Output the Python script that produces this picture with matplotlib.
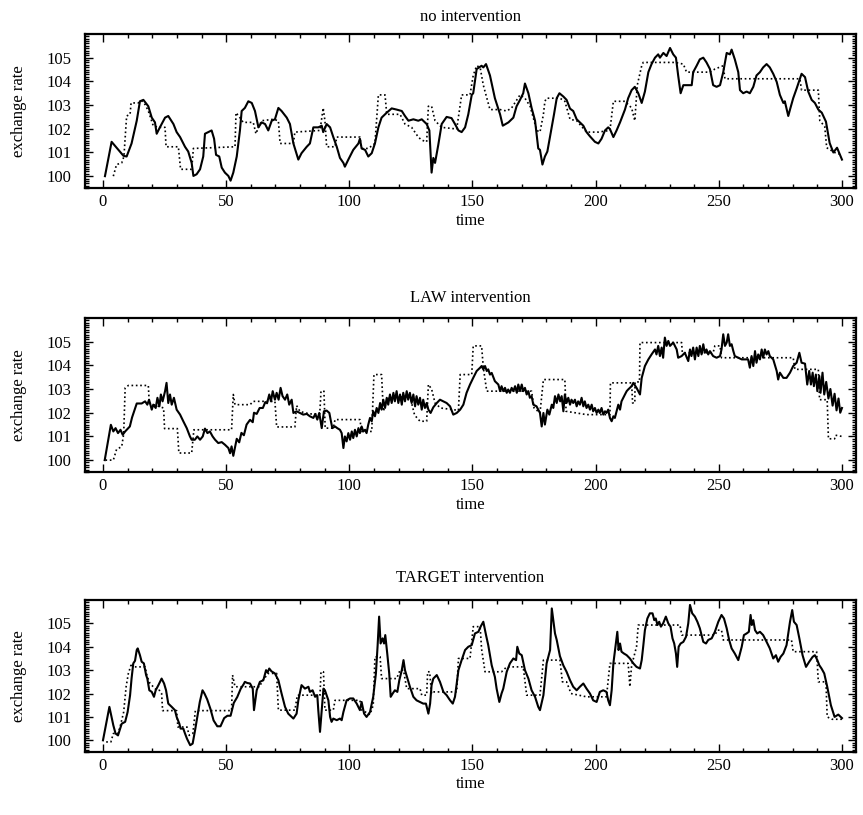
import matplotlib
matplotlib.use("Agg")
import matplotlib.pyplot as plt
from matplotlib.ticker import MultipleLocator

plt.rcParams['font.family'] = ['Liberation Serif', 'DejaVu Serif']

# (time, rate) pairs read per series
no_rate = [(0.8,100.0),(3.5,101.45),(8.3,100.86),(9.6,100.83),(11.6,101.38),(13.7,102.34),(15.0,103.16),(16.4,103.22),(18.4,102.95),(19.8,102.47),
           (21.1,102.27),(21.8,101.79),(23.1,102.06),(25.2,102.47),(26.5,102.54),(28.6,102.2),(29.9,101.86),(31.3,101.65),(33.3,101.24),(34.6,101.04),
           (36.0,100.56),(36.7,100.01),(38.0,100.08),(39.4,100.29),(40.7,100.83),(41.4,101.79),(42.8,101.86),(44.1,101.93),(45.1,101.58),(45.9,100.9),
           (47.2,100.83),(48.2,100.36),(49.5,100.15),(50.9,100.01),(51.8,99.81),(52.9,100.15),(54.3,100.83),(55.6,101.93),(56.3,102.75),(57.6,102.88),
           (59.0,103.16),(60.4,103.09),(61.7,102.75),(63.1,102.06),(64.4,102.27),(65.8,102.2),(67.1,101.93),(68.5,102.34),(69.8,102.4),(71.2,102.88),
           (72.5,102.75),(74.6,102.47),(75.9,102.2),(77.3,101.38),(79.3,100.7),(80.6,100.97),(82.7,101.24),(84.0,101.38),(85.4,102.06),(87.4,102.06),
           (88.8,102.13),(89.4,101.86),(90.8,102.2),(92.2,102.06),(93.5,101.65),(94.9,101.24),(96.2,100.77),(97.6,100.56),(98.2,100.4),(99.6,100.7),
           (101.6,101.11),(103.7,101.38),(104.3,101.58),(105.0,101.17),(106.4,101.11),(107.7,100.83),(109.1,100.97),(110.4,101.38),(111.8,102.06),(113.1,102.47),
           (115.2,102.68),(117.2,102.86),(119.2,102.81),(121.3,102.75),(122.6,102.54),(124.0,102.34),(126.0,102.4),(128.0,102.34),(129.4,102.4),(131.4,102.2),
           (132.5,101.93),(133.0,100.9),(133.4,100.15),(134.1,100.77),(134.8,100.56),(136.1,101.31),(137.5,102.2),(139.5,102.5),(141.5,102.45),(142.9,102.2),
           (144.3,101.93),(145.6,101.86),(147.0,102.06),(148.3,102.61),(149.7,103.43),(150.3,103.5),(151.7,104.52),(153.7,104.66),(154.4,104.59),(155.5,104.73),
           (157.1,104.25),(159.1,103.29),(161.2,102.61),(162.3,102.13),(164.6,102.27),(166.6,102.47),(167.9,102.95),(169.3,103.22),(170.6,103.5),(171.3,103.91),
           (172.7,103.5),(174.0,102.88),(175.4,102.34),(176.7,101.17),(177.4,101.11),(178.4,100.49),(179.4,100.83),(180.4,101.04),(181.7,101.79),(183.1,102.61),
           (184.2,103.29),(185.3,103.5),(186.9,103.36),(188.2,103.22),(189.6,102.85),(190.9,102.75),(192.3,102.4),(193.6,102.27),(195.0,102.13),(196.3,101.86),
           (197.7,101.68),(199.7,101.45),(201.1,101.38),(202.4,101.58),(203.8,101.93),(205.1,102.06),(205.8,101.99),(207.2,101.65),(208.5,101.93),(209.9,102.27),
           (211.9,102.81),(213.2,103.29),(214.6,103.63),(215.9,103.77),(217.3,103.5),(218.7,103.09),(220.0,103.57),(221.4,104.39),(222.7,104.73),(224.1,105.0),
           (225.4,105.14),(226.1,105.0),(227.5,105.2),(228.8,105.07),(230.2,105.41),(231.5,105.14),(232.6,105.0),(233.5,104.25),(234.5,103.5),(235.6,103.84),
           (239.0,103.84),(239.6,104.39),(241.0,104.66),(242.3,104.93),(243.7,105.0),(245.0,104.8),(246.4,104.52),(247.7,103.84),(249.1,103.77),(250.5,103.84),
           (251.8,104.39),(253.2,105.2),(254.5,105.14),(255.2,105.34),(256.5,104.93),(257.9,104.39),(258.6,103.63),(259.9,103.5),(261.3,103.57),(262.6,103.5),
           (264.0,103.77),(265.3,104.25),(266.7,104.39),(268.0,104.59),(269.4,104.73),(270.7,104.59),(272.1,104.32),(273.5,103.98),(274.8,103.43),(276.2,103.09),
           (276.8,103.16),(278.2,102.54),(278.9,102.81),(280.2,103.29),(281.6,103.7),(282.9,104.11),(283.6,104.32),(285.0,104.18),(286.3,103.57),(287.7,103.22),
           (289.0,103.09),(290.4,102.81),(291.8,102.68),(293.5,102.3),(295.0,101.4),(296.5,101.0),(298.0,101.2),(300.0,100.7)]

no_fund = [(4.2,100.0),(5.5,100.49),(7.6,100.56),(8.5,100.83),(9.2,101.93),(9.6,102.54),(11.0,102.61),(11.4,103.09),(14.3,103.09),(15.7,103.18),
           (17.1,103.02),(18.4,102.75),(20.4,102.13),(22.5,102.06),(25.2,102.06),(25.6,101.24),(30.6,101.24),(31.5,100.29),(36.0,100.29),(36.7,101.17),
           (53.6,101.24),(54.0,102.68),(55.6,102.47),(56.9,102.27),(61.0,102.27),(62.1,101.79),(63.1,102.06),(64.4,102.34),(69.1,102.4),(71.2,102.34),
           (71.9,101.38),(77.3,101.38),(77.9,101.86),(88.1,101.93),(89.4,102.88),(90.1,102.34),(90.8,101.24),(94.2,101.24),(94.9,101.65),(104.3,101.65),
           (105.0,101.17),(107.7,101.17),(110.4,101.38),(111.8,103.43),(114.5,103.43),(115.2,102.61),(120.6,102.61),(122.6,102.2),(125.3,102.06),(128.0,101.65),
           (129.4,101.52),(131.4,101.45),(132.1,102.95),(133.4,102.95),(134.8,102.34),(137.5,102.06),(143.6,101.99),(145.6,103.43),(149.0,103.43),(150.3,104.25),
           (151.7,104.66),(153.1,104.59),(154.4,103.84),(157.1,102.81),(161.2,102.81),(163.9,102.75),(165.9,102.88),(169.3,103.43),(171.3,103.29),(173.4,102.95),
           (176.1,101.93),(177.4,101.86),(178.8,102.61),(179.4,103.16),(180.1,103.29),(185.5,103.29),(187.5,103.16),(189.6,102.4),(192.3,102.34),(196.3,101.86),
           (201.1,101.86),(205.8,101.93),(207.2,103.16),(211.9,103.16),(214.6,102.88),(215.9,102.34),(216.9,103.84),(218.7,104.66),(219.3,104.8),(232.2,104.8),
           (235.6,104.73),(236.9,104.39),(246.4,104.39),(248.4,104.52),(251.8,104.66),(252.5,104.11),(282.9,104.11),(283.6,103.63),(290.4,103.63),(291.0,102.34),
           (293.0,102.1),(293.8,101.2),(297.0,101.0),(300.0,100.9)]

law_rate = [(0.7,100.0),(3.2,101.49),(4.2,101.21),(5.1,101.35),(6.1,101.14),(7.1,101.28),(8.0,101.07),(9.0,101.21),(10.9,101.42),(11.8,101.8),
            (13.7,102.39),(15.7,102.39),(17.1,102.48),(18.0,102.34),(18.7,102.55),(19.8,102.13),(20.4,102.34),(21.4,102.2),(22.1,102.63),(22.9,102.27),
            (23.5,102.77),(24.2,102.48),(25.2,102.91),(25.8,103.26),(26.5,102.41),(27.2,102.77),(27.9,102.34),(28.8,102.63),(29.9,102.13),(31.3,101.92),
            (32.6,101.64),(34.0,101.35),(35.3,101.0),(36.0,100.86),(37.3,100.86),(38.3,101.0),(39.4,100.86),(40.5,101.0),(41.4,101.33),(42.4,101.14),
            (43.4,101.21),(44.5,101.0),(45.5,100.86),(46.8,100.72),(48.2,100.76),(49.5,100.65),(50.9,100.51),(51.6,100.29),(52.2,100.58),(52.9,100.18),
            (54.3,100.9),(55.3,100.75),(56.2,101.15),(57.2,101.05),(58.3,101.5),(59.7,101.7),(60.8,101.6),(61.3,102.0),(62.4,101.95),(63.6,102.2),
            (64.9,102.2),(65.9,102.45),(66.6,102.4),(67.5,102.77),(68.2,102.48),(68.9,102.91),(69.8,102.55),(70.5,102.84),(71.3,102.55),(72.1,103.05),
            (72.9,102.7),(73.9,102.55),(74.8,102.77),(75.6,102.34),(76.6,102.55),(77.3,101.99),(78.6,102.06),(80.0,101.99),(81.3,101.92),(82.7,101.95),
            (84.0,101.85),(85.4,101.78),(86.2,101.95),(87.0,101.71),(87.8,101.99),(88.8,101.35),(89.7,102.06),(90.8,102.09),(91.9,101.99),(92.4,101.71),
            (93.1,101.35),(94.2,101.42),(95.1,101.35),(96.2,101.28),(96.9,101.14),(97.6,100.51),(98.2,101.0),(98.9,100.79),(99.6,101.14),(100.3,100.86),
            (101.0,101.21),(101.6,100.93),(102.3,101.28),(103.0,101.0),(103.7,101.35),(104.3,101.14),(105.0,101.42),(105.7,101.21),(106.4,101.28),(107.0,101.14),
            (107.7,101.5),(108.4,101.78),(109.1,101.64),(109.7,102.06),(110.4,101.85),(111.1,102.2),(111.8,101.99),(112.5,102.41),(113.1,102.13),(113.8,102.55),
            (114.5,102.2),(115.2,102.63),(115.8,102.34),(116.5,102.77),(117.2,102.41),(117.9,102.84),(118.5,102.48),(119.2,102.91),(119.9,102.41),(120.6,102.77),
            (121.3,102.34),(121.9,102.84),(122.6,102.48),(123.3,102.91),(123.9,102.55),(124.6,102.84),(125.3,102.41),(126.0,102.77),(126.7,102.27),(127.3,102.7),
            (128.0,102.34),(128.7,102.63),(129.4,102.13),(130.0,102.55),(130.7,102.2),(131.4,102.41),(132.1,102.13),(133.0,101.99),(134.1,102.23),(135.5,102.41),
            (136.8,102.55),(138.2,102.48),(139.5,102.41),(140.9,102.27),(142.2,101.92),(143.6,101.99),(145.0,102.13),(146.3,102.34),(147.6,102.84),(149.0,103.19),
            (150.3,103.47),(151.7,103.76),(153.1,103.9),(153.7,103.97),(154.4,103.83),(155.1,103.97),(155.8,103.76),(156.4,103.83),(157.1,103.61),(157.8,103.68),
            (159.1,103.33),(160.5,103.19),(161.2,102.91),(161.8,103.12),(162.5,102.91),(163.2,103.05),(163.9,102.84),(164.5,102.98),(165.2,102.84),(165.9,103.05),
            (166.6,102.91),(167.3,103.12),(168.0,102.84),(168.6,103.19),(169.3,102.91),(170.0,103.19),(170.6,102.91),(171.3,103.05),(172.0,102.77),(172.7,102.91),
            (173.3,102.63),(174.0,102.7),(174.7,102.34),(176.0,102.27),(177.4,101.99),(178.1,101.42),(178.8,101.99),(179.4,101.5),(180.4,102.13),(181.2,101.92),
            (182.2,102.34),(182.8,102.2),(183.5,102.7),(184.2,102.41),(184.9,102.77),(185.6,102.48),(186.2,102.7),(186.9,102.06),(187.5,102.77),(188.2,102.41),
            (188.9,102.63),(189.6,102.34),(190.2,102.55),(190.9,102.41),(191.6,102.55),(192.3,102.27),(192.9,102.48),(193.6,102.34),(194.3,102.63),(195.0,102.27),
            (195.6,102.48),(196.3,102.2),(197.0,102.34),(197.7,102.13),(198.4,102.34),(199.0,102.06),(199.7,102.2),(200.4,101.99),(201.1,102.13),(201.7,101.99),
            (202.4,102.2),(203.1,101.92),(203.8,102.06),(204.4,101.99),(205.1,102.13),(205.8,101.78),(206.5,101.64),(207.2,101.85),(207.8,101.78),(208.5,102.06),
            (209.2,102.34),(209.9,102.13),(210.5,102.48),(211.2,102.63),(211.9,102.77),(212.6,102.91),(213.2,102.98),(213.9,103.05),(214.6,103.12),(215.3,103.26),
            (216.6,103.05),(218.0,102.77),(218.7,103.47),(220.0,103.97),(221.4,104.25),(222.7,104.46),(224.1,104.67),(224.7,104.46),(225.4,104.82),(226.1,104.39),
            (226.8,104.75),(227.4,104.32),(228.1,105.17),(228.8,104.82),(229.5,105.03),(230.2,104.82),(231.5,104.96),(232.9,104.67),(233.5,104.32),(234.9,104.39),
            (236.2,104.53),(237.6,104.18),(238.3,104.67),(238.9,104.39),(239.6,104.75),(240.3,104.25),(241.0,104.75),(241.7,104.39),(242.3,104.82),(243.0,104.46),
            (243.7,104.89),(244.3,104.53),(245.0,104.67),(245.7,104.46),(246.4,104.6),(247.7,104.39),(249.1,104.32),(250.5,104.39),(251.1,104.67),(251.8,105.31),
            (252.5,104.82),(253.2,104.96),(253.8,105.31),(254.5,104.82),(255.2,104.89),(255.9,104.6),(256.5,104.39),(257.9,104.32),(259.3,104.25),(260.6,104.25),
            (261.9,104.25),(262.6,103.9),(263.3,104.39),(264.0,103.97),(264.7,104.6),(265.3,104.11),(266.0,104.46),(266.7,104.25),(267.4,104.67),(268.0,104.32),
            (268.7,104.67),(269.4,104.46),(270.1,104.6),(270.7,104.39),(272.1,104.25),(273.5,103.76),(274.1,103.4),(274.8,103.69),(276.2,103.47),(277.5,103.47),
            (278.9,103.69),(280.2,103.97),(281.6,104.11),(282.7,104.53),(283.6,104.11),(285.0,104.07),(285.9,103.19),(286.7,103.76),(287.4,103.19),(288.1,103.69),
            (288.6,103.12),(289.4,103.61),(290.0,102.91),(290.8,103.55),(291.3,102.84),(292.1,103.69),(292.8,102.77),(293.6,103.3),(294.5,102.6),(295.3,103.0),
            (296.2,102.3),(297.0,102.8),(297.8,102.1),(298.6,102.6),(299.3,102.0),(300.0,102.2)]

law_fund = [(1.0,100.0),(4.2,100.0),(5.5,100.45),(7.6,100.57),(8.4,101.1),(9.0,103.05),(10.3,103.15),(18.4,103.15),(18.8,102.4),(24.6,102.2),
            (25.0,101.33),(30.2,101.33),(30.8,100.3),(36.0,100.3),(36.9,101.28),(52.2,101.28),(52.9,102.77),(53.6,102.34),(59.7,102.34),(61.0,102.48),
            (69.8,102.48),(70.5,101.4),(77.9,101.4),(78.6,102.3),(80.0,102.05),(84.0,101.95),(88.0,101.95),(88.5,102.91),(89.7,102.91),(90.2,101.35),
            (93.5,101.35),(94.2,101.71),(104.3,101.71),(105.0,101.21),(109.1,101.21),(110.0,103.61),(113.1,103.61),(113.8,102.06),(115.5,102.6),(124.6,102.7),
            (126.5,101.9),(128.7,101.64),(131.4,101.64),(132.1,103.19),(133.4,103.0),(134.8,102.41),(137.0,102.2),(144.3,102.1),(145.0,103.61),(149.7,103.61),
            (150.3,104.82),(153.7,104.82),(154.4,103.9),(155.8,102.91),(174.0,102.91),(175.0,102.2),(177.4,101.99),(178.8,103.4),(187.5,103.4),(188.0,102.06),
            (196.3,101.92),(205.8,101.92),(206.0,103.26),(214.6,103.26),(215.0,102.41),(215.9,102.41),(216.0,103.3),(217.8,103.3),(218.0,104.96),(234.9,104.96),
            (235.2,104.53),(247.7,104.53),(248.4,104.82),(250.5,104.82),(251.1,104.32),(280.2,104.32),(280.9,103.83),(290.4,103.83),(290.9,102.55),(294.0,102.55),
            (294.5,100.9),(297.0,100.9),(297.4,101.05),(300.0,101.0)]

target_rate = [(0.0,100.0),(2.6,101.43),(4.2,100.64),(5.1,100.29),(6.1,100.21),(7.6,100.71),(9.0,100.79),(10.0,101.21),(11.0,101.93),(11.6,102.64),
               (12.3,103.29),(13.0,103.4),(13.7,103.86),(14.1,103.93),(15.0,103.64),(15.7,103.36),(16.6,103.29),(17.5,102.79),(18.0,102.64),(18.8,102.14),
               (19.8,102.07),(20.7,101.86),(21.4,102.14),(22.5,102.36),(23.8,102.64),(24.8,102.43),(25.6,102.14),(26.5,101.57),(27.9,101.43),(29.2,101.29),
               (29.9,101.0),(31.0,100.71),(31.5,100.5),(32.6,100.5),(33.3,100.29),(34.1,100.07),(35.4,99.79),(36.4,99.86),(37.5,100.5),(38.5,101.14),
               (39.3,101.64),(40.4,102.14),(41.2,102.0),(42.3,101.75),(43.6,101.35),(44.9,100.85),(46.4,100.6),(47.7,100.6),(49.2,100.95),(50.5,101.05),
               (51.8,101.05),(53.1,101.6),(54.5,101.85),(55.9,102.2),(57.1,102.4),(57.6,102.5),(58.6,102.45),(59.7,102.43),(60.8,102.21),(61.3,101.29),
               (62.4,102.14),(63.7,102.5),(65.1,102.57),(66.2,103.0),(66.8,102.9),(67.5,103.07),(68.4,102.95),(69.8,102.86),(71.2,102.57),(72.5,102.0),
               (73.9,101.43),(75.2,101.14),(76.6,101.0),(77.3,100.93),(78.6,101.14),(79.3,101.71),(80.6,102.36),(82.0,102.21),(83.4,102.29),(84.0,102.07),
               (85.1,102.14),(86.1,101.86),(87.0,101.93),(87.4,101.29),(88.1,100.36),(88.8,101.29),(89.5,102.21),(90.1,102.14),(90.8,101.93),(91.5,101.71),
               (92.2,101.0),(92.8,100.79),(93.5,100.93),(94.9,100.86),(96.2,100.93),(96.9,100.86),(97.6,101.21),(98.9,101.71),(100.3,101.79),(101.6,101.79),
               (103.0,101.57),(104.3,101.29),(105.0,101.64),(106.0,101.14),(107.0,101.0),(108.4,101.21),(109.7,101.86),(110.8,102.86),(111.5,104.07),(112.1,105.29),
               (112.7,104.14),(113.5,104.36),(114.1,104.14),(114.6,104.5),(115.4,103.71),(116.2,102.86),(116.8,101.86),(117.6,102.0),(118.5,102.14),(119.5,102.07),
               (120.3,102.57),(121.3,103.0),(122.0,103.43),(122.6,103.0),(123.6,102.64),(124.6,102.29),(126.0,101.86),(127.3,101.71),(128.7,101.64),(130.0,101.57),
               (131.1,101.57),(132.1,101.14),(132.8,101.57),(133.4,102.36),(134.1,102.64),(135.5,102.79),(136.8,102.5),(138.2,102.07),(139.5,101.93),(140.9,101.71),
               (142.0,101.57),(142.9,101.86),(144.3,103.0),(145.6,103.43),(147.0,103.86),(148.3,104.0),(149.7,104.07),(151.0,104.57),(152.4,104.64),(153.3,104.86),
               (154.4,105.07),(155.5,104.5),(156.4,104.07),(157.8,103.21),(159.1,102.71),(159.8,102.21),(160.9,101.64),(161.8,102.0),(162.5,102.21),(163.9,102.93),
               (165.2,103.29),(166.6,103.5),(167.7,103.43),(168.2,104.0),(169.0,103.71),(170.0,103.64),(171.3,103.0),(172.7,102.64),(174.0,102.14),(175.4,101.86),
               (176.7,101.43),(177.4,101.29),(178.8,101.93),(180.1,103.29),(181.5,103.86),(182.2,105.64),(182.8,105.14),(183.5,104.57),(184.2,104.29),(185.5,103.6),
               (186.9,103.2),(188.2,102.93),(189.6,102.57),(190.9,102.29),(192.3,102.14),(193.6,102.29),(195.0,102.43),(196.3,102.21),(197.7,102.0),(199.0,101.71),
               (200.4,101.64),(201.7,102.07),(203.1,102.14),(204.4,102.07),(205.1,101.71),(205.8,101.5),(206.5,102.14),(207.2,103.29),(208.2,104.14),(208.8,104.64),
               (209.3,103.86),(209.9,104.14),(210.5,103.79),(211.5,103.71),(212.6,103.64),(213.9,103.5),(215.3,103.29),(216.6,103.14),(218.0,103.07),(218.7,103.43),
               (219.3,104.0),(220.0,104.71),(221.0,105.21),(222.0,105.43),(223.1,105.43),(223.8,105.14),(224.4,105.21),(225.1,104.93),(225.8,105.07),(226.5,104.86),
               (227.4,105.0),(228.5,105.29),(229.5,105.0),(230.4,104.86),(231.2,104.36),(231.9,104.14),(232.6,103.71),(233.1,103.14),(233.7,104.0),(234.5,104.14),
               (235.6,104.21),(236.7,104.43),(237.6,105.0),(238.3,105.79),(239.2,105.43),(240.3,105.29),(241.3,105.07),(242.3,104.79),(243.7,104.21),(244.8,104.14),
               (245.7,104.29),(247.1,104.36),(248.4,104.64),(249.8,105.07),(251.1,105.36),(252.1,105.21),(253.2,104.79),(254.2,104.29),(255.2,103.93),(256.5,103.71),
               (257.9,103.43),(259.3,104.0),(260.2,104.5),(261.3,104.57),(262.2,104.64),(262.9,105.36),(263.4,104.93),(264.0,105.14),(264.7,104.71),(265.6,104.57),
               (266.7,104.64),(268.0,104.5),(269.4,104.21),(270.7,103.93),(272.1,103.5),(273.2,103.64),(274.1,103.36),(275.1,103.57),(276.2,103.71),(277.5,104.07),
               (278.9,105.07),(279.8,105.57),(280.5,105.07),(281.6,104.93),(282.7,104.36),(284.0,103.64),(285.4,103.14),(286.7,103.36),(288.1,103.57),(289.0,103.64),
               (290.0,103.43),(290.8,103.21),(291.7,103.07),(292.8,102.86),(294.0,102.3),(295.5,101.5),(297.0,101.0),(298.5,101.1),(300.0,100.95)]

target_fund = [(1.3,99.93),(3.2,99.93),(4.2,100.29),(6.1,100.29),(7.1,100.64),(8.4,101.21),(9.4,102.3),(10.3,102.86),(11.6,103.29),(12.3,103.14),
               (17.1,103.14),(18.0,102.71),(19.1,102.43),(21.8,102.14),(22.9,102.14),(23.8,102.0),(24.2,101.27),(29.9,101.27),(30.4,100.57),(34.1,100.57),
               (35.0,100.21),(36.5,100.3),(37.5,101.27),(52.2,101.27),(52.6,102.79),(53.6,102.29),(63.7,102.29),(64.4,102.5),(67.1,102.86),(70.5,102.86),
               (71.2,101.29),(77.9,101.29),(78.9,101.93),(88.1,101.93),(88.5,102.93),(89.5,102.93),(90.1,101.29),(93.5,101.29),(94.2,101.71),(104.3,101.71),
               (105.0,101.3),(108.4,101.1),(109.7,101.5),(110.4,103.57),(112.5,103.57),(113.1,102.64),(119.2,102.64),(120.6,103.0),(122.0,103.0),(123.3,102.21),
               (128.7,102.21),(129.4,101.93),(131.4,101.93),(131.8,102.93),(132.6,102.93),(133.4,102.0),(134.0,102.07),(143.6,102.07),(144.3,103.5),(149.0,103.5),
               (150.3,104.86),(153.1,104.86),(153.7,103.9),(155.1,102.93),(161.8,102.93),(163.9,103.14),(170.6,103.14),(172.0,101.93),(177.4,101.93),(178.8,103.43),
               (185.5,103.43),(186.5,102.5),(188.2,102.5),(190.0,102.0),(196.3,101.86),(204.4,101.86),(205.8,103.29),(213.2,103.29),(213.9,102.29),(214.6,103.2),
               (216.6,104.0),(217.3,104.93),(234.2,104.93),(235.0,104.5),(248.4,104.5),(249.5,104.71),(251.1,104.71),(251.8,104.29),(279.5,104.29),(280.2,103.79),
               (289.7,103.79),(290.4,102.5),(293.5,102.5),(294.0,101.0),(296.0,100.9),(300.0,100.9)]

titles = ['no intervention', 'LAW intervention', 'TARGET intervention']
x_ticks = [0, 50, 100, 150, 200, 250, 300]
y_ticks = [100, 101, 102, 103, 104, 105]

panels = [(no_rate, no_fund), (law_rate, law_fund), (target_rate, target_fund)]
boxes = [[0.0985, 0.7693, 0.8934, 0.1890],
         [0.0985, 0.4209, 0.8934, 0.1890],
         [0.0985, 0.0773, 0.8934, 0.1865]]
title_pads = [9, 11.5, 13]

fig = plt.figure(figsize=(8.63, 8.15), dpi=100)

for (rate, fund), box, title, pad in zip(panels, boxes, titles, title_pads):
    ax = fig.add_axes(box)
    t, v = zip(*rate)
    ax.plot(t, v, color='black', lw=1.5, solid_joinstyle='round')
    t, v = zip(*fund)
    ax.plot(t, v, color='black', lw=1.2, linestyle=(0, (1, 1.6)))

    ax.set_xlim(-7.3, 305.7)
    ax.set_ylim(99.5, 106.0)
    ax.set_xticks(x_ticks)
    ax.set_yticks(y_ticks)
    ax.xaxis.set_minor_locator(MultipleLocator(10))
    ax.yaxis.set_minor_locator(MultipleLocator(0.1))
    ax.tick_params(which='both', direction='in', top=True, right=True, labelsize=12, width=1)
    ax.tick_params(which='major', length=6)
    ax.tick_params(which='minor', length=3)
    ax.tick_params(axis='y', pad=10)
    ax.tick_params(axis='x', pad=4)
    for s in ax.spines.values():
        s.set_linewidth(1.6)

    ax.set_title(title, fontsize=12, pad=pad)
    ax.set_xlabel('time', fontsize=12)
    ax.set_ylabel('exchange rate', fontsize=12)
    ax.xaxis.set_label_coords(0.5, -0.16)
    ax.yaxis.set_label_coords(-0.075, 0.5)

fig.savefig('out.png', dpi=100)
